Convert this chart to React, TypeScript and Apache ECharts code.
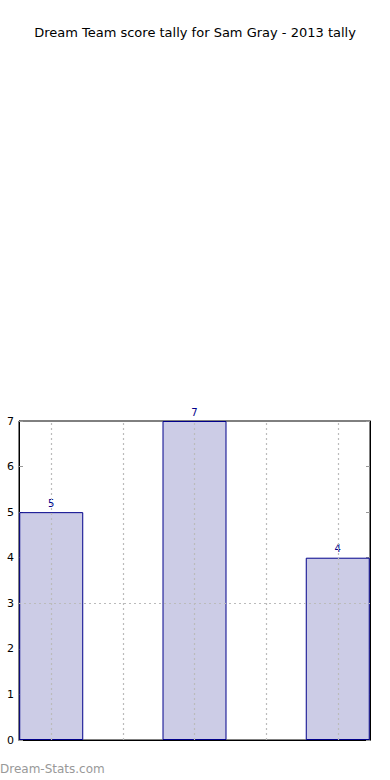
import React, { useEffect, useRef } from "react";
import * as echarts from "echarts";

const positions = [0, 2, 4];
const scores = [5, 7, 4];
const gridXs = [0, 1, 2, 3, 4];
const gridYs = [3];
const titleText = "Dream Team score tally for Sam Gray - 2013 tally";
const watermark = "Dream-Stats.com";

export default function App() {
  const ref = useRef<HTMLDivElement>(null);
  useEffect(() => {
    if (!ref.current) return;
    const chart = echarts.init(ref.current, null, { renderer: "svg" });
    const font = "DejaVu Sans";
    chart.setOption({
      animation: false,
      textStyle: { fontFamily: font },
      title: {
        text: titleText,
        left: "center",
        top: 21,
        textStyle: { fontFamily: font, fontSize: 13, fontWeight: "normal", color: "#000" },
      },
      grid: {
        left: 19,
        right: 20,
        top: 421,
        bottom: 40,
        show: true,
        borderColor: "#000",
        borderWidth: 1,
        backgroundColor: "transparent",
      },
      xAxis: {
        type: "value",
        min: -0.45,
        max: 4.45,
        axisLine: { show: true, onZero: false, lineStyle: { color: "#000" } },
        axisTick: { show: false },
        axisLabel: { show: false },
        splitLine: { show: false },
      },
      yAxis: [
        {
          type: "value",
          min: 0,
          max: 7,
          interval: 1,
          axisLine: { show: true, onZero: false, lineStyle: { color: "#000" } },
          axisTick: { show: true, inside: true, length: 4, lineStyle: { color: "#999" } },
          axisLabel: { color: "#000", fontSize: 11, margin: 5, fontFamily: font },
          splitLine: { show: false },
        },
        {
          type: "value",
          min: 0,
          max: 7,
          interval: 1,
          position: "right",
          axisLine: { show: true, onZero: false, lineStyle: { color: "#000" } },
          axisTick: { show: true, inside: true, length: 4, lineStyle: { color: "#999" } },
          axisLabel: { show: false },
          splitLine: { show: false },
        },
      ],
      series: [
        {
          type: "bar",
          data: positions.map((p, i) => [p, scores[i]]),
          barWidth: 64,
          itemStyle: { color: "#ccccE6", borderColor: "#00008B", borderWidth: 1 },
          label: {
            show: true,
            position: "top",
            distance: 4,
            color: "#00008B",
            fontSize: 10,
            fontFamily: font,
          },
          markLine: {
            silent: true,
            symbol: "none",
            label: { show: false },
            lineStyle: { color: "#bbb", type: [2, 3], width: 1.2 },
            data: [
              ...gridXs.map((x) => ({ xAxis: x })),
              ...gridYs.map((y) => ({ yAxis: y })),
            ],
          },
          z: 2,
        },
      ],
      graphic: [
        {
          type: "text",
          left: 0,
          top: 763,
          style: { text: watermark, fill: "#999", fontSize: 12, fontFamily: font },
        },
      ],
    });
    return () => chart.dispose();
  }, []);
  return (
    <div
      ref={ref}
      style={{ position: "fixed", left: 0, top: 0, width: 390, height: 780, background: "#fff" }}
    />
  );
}
